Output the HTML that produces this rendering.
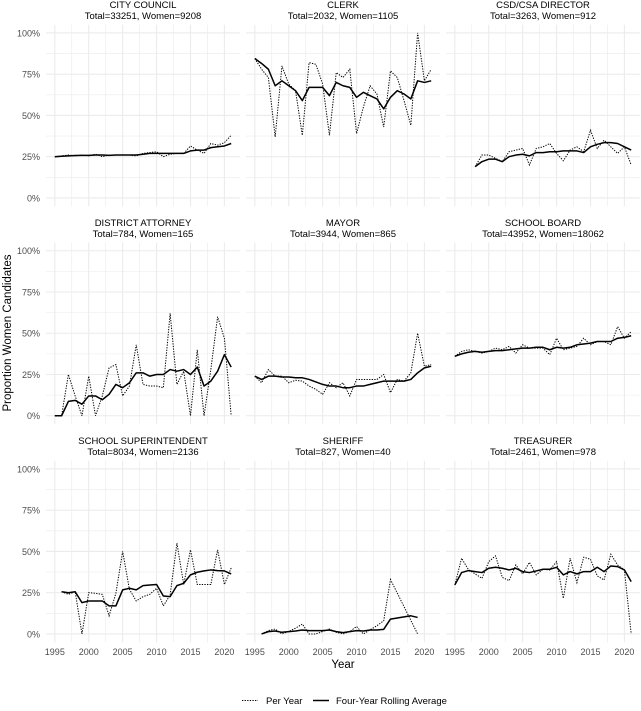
<!DOCTYPE html>
<html><head><meta charset="utf-8"><style>
body{margin:0;background:#fff;}
svg text{font-family:"Liberation Sans",Arial,sans-serif;}
</style></head><body>
<svg id="chart" width="641" height="706" viewBox="0 0 641 706" xmlns="http://www.w3.org/2000/svg">
</svg>
<script>
const years = [1995,1996,1997,1998,1999,2000,2001,2002,2003,2004,2005,2006,2007,2008,2009,2010,2011,2012,2013,2014,2015,2016,2017,2018,2019,2020,2021];
const panelTitles = ["CITY COUNCIL","CLERK","CSD/CSA DIRECTOR","DISTRICT ATTORNEY","MAYOR","SCHOOL BOARD","SCHOOL SUPERINTENDENT","SHERIFF","TREASURER"];
const panelSubtitles = ["Total=33251, Women=9208","Total=2032, Women=1105","Total=3263, Women=912","Total=784, Women=165","Total=3944, Women=865","Total=43952, Women=18062","Total=8034, Women=2136","Total=827, Women=40","Total=2461, Women=978"];
const yTicks = [0,25,50,75,100];
const yTickLabels = ["0%","25%","50%","75%","100%"];
const xTicks = [1995,2000,2005,2010,2015,2020];
const N = null;
// per-year proportions (%) 1995..2021
const perYearCityCouncil = [25,25.5,26,25.5,26,25.5,26.5,25,26,26,26,26,25.5,27,27.5,28,25,26.5,27,27,31.5,29,27,33,32,33.5,38];
const perYearClerk = [84.5,78,73,37,80,69,65,38,82,81,69,38,76,73,78,39,55,68,63,43,77,73,59,44,100,71,78];
const perYearCsd = [N,N,N,19,26,26,24,22,28,29,30,20,30,31,33,27,22.5,29,31,28,41,30,35,31,27,31,20];
const perYearDa = [0,0,25,12,0,24,0,12,29,31,12,18,43,19,18,18,17,62,19,27,0,40,0,28,60,47,0];
const perYearMayor = [24,20,28,24,24,20,21.5,21,18,16,13,20,17,20,12,22,22,22,22,25,14,22,21,26,50,30,31];
const perYearSchoolBoard = [36,39,40,39,38,39,41,40,42,38,43,41,41,41,37,47,40,41,42,47,43,45,45,43,54,47,51];
const perYearSuperintendent = [N,25.6,24,25.6,0,25,24.6,24,11,24.6,50,27,20,22.6,24,27.7,17,23.6,55,30,51,30,30,30,51,30,40];
const perYearSheriff = [N,0,2,3,0,1.5,3.5,6,0,0,1.5,3,1,0,1.5,4.5,0,2.5,5,8,33,N,N,N,0,N,N];
const perYearTreasurer = [29.7,45.9,39,36.4,33.7,43.8,47.3,34.3,32.3,41.8,36.4,43.4,35.8,39.2,38.8,43.8,21.6,45.9,31.1,46.5,45.3,35.2,32.7,48.3,41.8,38.8,0];
// four-year rolling averages (%)
const rollCityCouncil = [25,25.3,25.5,25.7,25.8,25.8,26,26,25.8,26,26,26,26,26.5,27,27,27,27,27,27,28.5,29,29,30.5,31,31.5,33];
const rollClerk = [84.5,81.5,78,68,71,68,65,59,67,67,67,62,70,68,67,61,64,62,60,54,61,65,63,60,71,70,71];
const rollCsd = [N,N,N,19,22,23.5,23.5,22,25,26,26.5,25.5,27.5,27.5,28,28,28.5,28.5,28.5,27.5,31,32.5,33.5,33.5,33,31,29];
const rollDa = [0,0,8.7,9.3,7,12,12,9.7,13,19,17,20,26,26,24,25,25,28,27,28,25,29.5,18,21,27,37,29.5];
const rollMayor = [24,22,24,24,23.5,23.5,23,23,22,20.5,19,18,18,17,17,18,18,19,20,21,21,21,21,22,26,29,30];
const rollSchoolBoard = [36,37.5,38.5,39,38.5,39,39.5,39.5,40,40.5,41,41,41.5,41.5,40,41.5,41,41.5,43,43.5,44,45,45,45,47,47.5,48.5];
const rollSuperintendent = [N,25.6,25,25.6,19,20,20,20,17,17,26.7,27.7,26.7,29.3,29.7,30,23,22.6,29.3,30.7,35.8,37.4,38.2,38.8,38.4,38.2,36.4];
const rollSheriff = [N,0,1.4,1.8,1,1.4,1.8,2.4,2,2,2,2.4,1.4,0.8,1.4,2,1.8,2.4,2.4,2.8,9,N,N,11,10,N,N];
const rollTreasurer = [29.7,37.2,38.4,37.8,37.2,39.8,40.4,39.8,38.8,39.8,37.8,37.2,38.2,39.2,39.2,40.4,35.8,37.8,36.4,37.8,37.8,40.4,37.8,41.2,40.8,38.8,31.7];

const perYearSeries = [perYearCityCouncil,perYearClerk,perYearCsd,perYearDa,perYearMayor,perYearSchoolBoard,perYearSuperintendent,perYearSheriff,perYearTreasurer];
const rollSeries = [rollCityCouncil,rollClerk,rollCsd,rollDa,rollMayor,rollSchoolBoard,rollSuperintendent,rollSheriff,rollTreasurer];

const svg = document.getElementById('chart');
const NS = 'http://www.w3.org/2000/svg';
function mk(tag, attrs, parent){
  const e = document.createElementNS(NS, tag);
  for (const k in attrs) e.setAttribute(k, attrs[k]);
  (parent||svg).appendChild(e);
  return e;
}
const colLeft = [46,246,446];
const rowTop = [24.7,242.5,460.7];
const PW = 194, PH = 181.5;
const X0 = 1993.7, X1 = 2022.3, Y0 = -5, Y1 = 105;

for (let p = 0; p < 9; p++) {
  const c = p % 3, r = Math.floor(p / 3);
  const L = colLeft[c], T = rowTop[r];
  const xs = v => L + (v - X0) / (X1 - X0) * PW;
  const ys = v => T + PH - (v - Y0) / (Y1 - Y0) * PH;
  const g = mk('g', {});
  
  
  // grid minor
  for (let v = 12.5; v < 100; v += 25) {
    const l = mk('line', {x1:L,x2:L+PW,y1:ys(v),y2:ys(v),stroke:'#ebebeb','stroke-width':0.6}, g);
    
    
  }
  for (let v = 1997.5; v < 2022; v += 5) {
    const l = mk('line', {x1:xs(v),x2:xs(v),y1:T,y2:T+PH,stroke:'#ebebeb','stroke-width':0.6}, g);
    
    
  }
  yTicks.forEach((v, i) => {
    const l = mk('line', {x1:L,x2:L+PW,y1:ys(v),y2:ys(v),stroke:'#ebebeb','stroke-width':1.1}, g);
    
    
    if (c === 0) {
      const t = mk('text', {x:40,y:ys(v)+3.3,'text-anchor':'end','font-size':9,fill:'#4d4d4d'}, g);
      t.textContent = yTickLabels[i];
      
      
    }
  });
  xTicks.forEach(v => {
    const l = mk('line', {x1:xs(v),x2:xs(v),y1:T,y2:T+PH,stroke:'#ebebeb','stroke-width':1.1}, g);
    
    
    if (r === 2) {
      const t = mk('text', {x:xs(v),y:655,'text-anchor':'middle','font-size':9,fill:'#4d4d4d'}, g);
      t.textContent = String(v);
      
      
    }
  });
  const t1 = mk('text', {x:L+PW/2,y:T-16.5,'text-anchor':'middle','font-size':9.5,fill:'#000'}, g);
  t1.textContent = panelTitles[p];
  
  
  const t2 = mk('text', {x:L+PW/2,y:T-5.5,'text-anchor':'middle','font-size':9.5,fill:'#000'}, g);
  t2.textContent = panelSubtitles[p];
  
  

  function pathFor(arr){
    let d = '';
    arr.forEach((v, i) => {
      if (v === null) return;
      d += (d ? 'L' : 'M') + xs(years[i]).toFixed(2) + ',' + ys(v).toFixed(2);
    });
    return d;
  }
  const pd = mk('path', {d:pathFor(perYearSeries[p]),fill:'none',stroke:'#000','stroke-width':1,'stroke-dasharray':'1.3,1.3'}, g);
  
  
  const rd = mk('path', {d:pathFor(rollSeries[p]),fill:'none',stroke:'#000','stroke-width':1.5,'stroke-linejoin':'round'}, g);
  
  
}
// axis titles
const yt = mk('text', {x:0,y:0,transform:'translate(11,333) rotate(-90)','text-anchor':'middle','font-size':11.5,fill:'#000'});
yt.textContent = 'Proportion Women Candidates';


const xt = mk('text', {x:343,y:668,'text-anchor':'middle','font-size':11.5,fill:'#000'});
xt.textContent = 'Year';


// legend
const lg = mk('g', {});


const k1 = mk('line', {x1:242,x2:258,y1:700.5,y2:700.5,stroke:'#000','stroke-width':1,'stroke-dasharray':'1.3,1.3'}, lg);


const l1 = mk('text', {x:266,y:704,'font-size':9.5,fill:'#000'}, lg);
l1.textContent = 'Per Year';


const k2 = mk('line', {x1:313,x2:329,y1:700.5,y2:700.5,stroke:'#000','stroke-width':1.5}, lg);


const l2 = mk('text', {x:336,y:704,'font-size':9.5,fill:'#000'}, lg);
l2.textContent = 'Four-Year Rolling Average';


</script>
</body></html>
